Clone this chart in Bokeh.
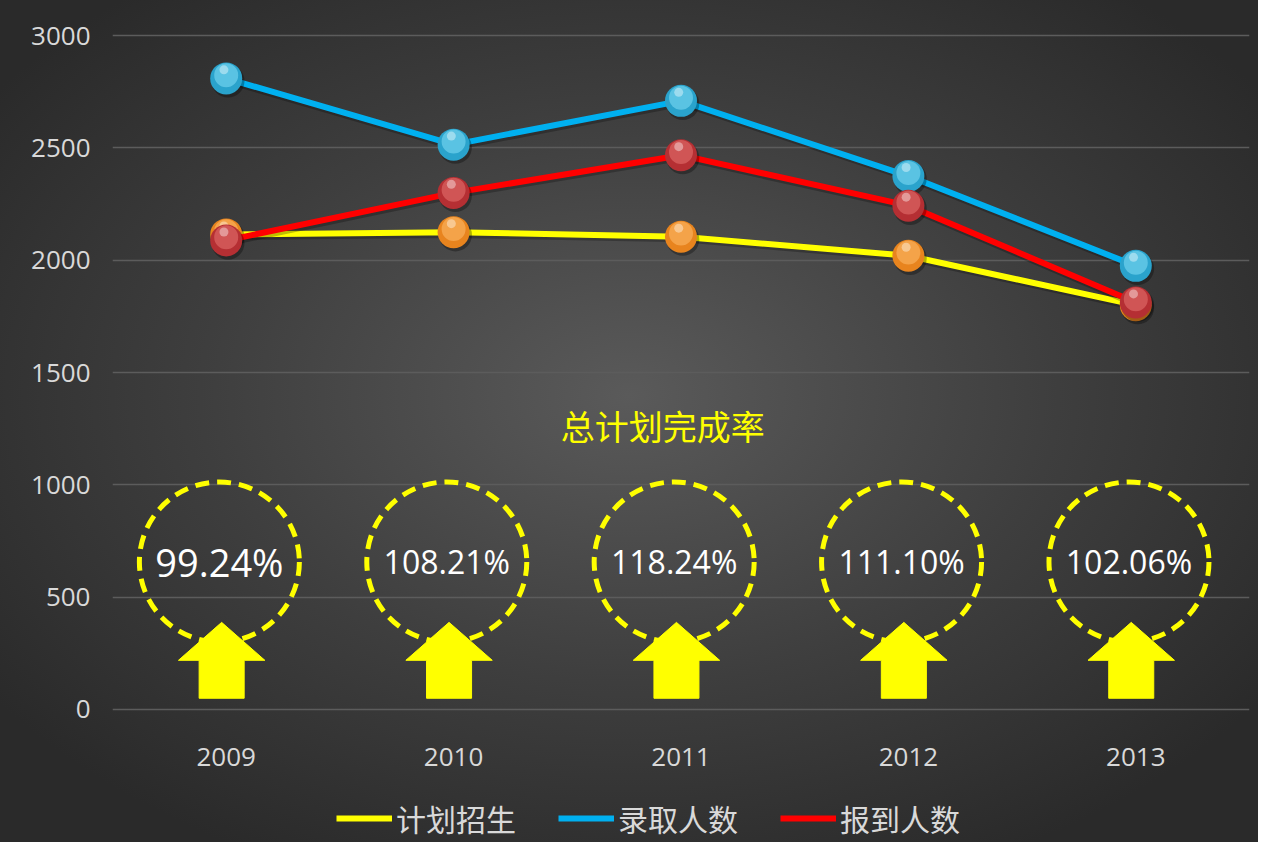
from bokeh.plotting import figure
from bokeh.models import ColumnDataSource, Legend, LegendItem, Label, FixedTicker, Range1d
from bokeh.layouts import column
from bokeh.transform import dodge
from bokeh.core.properties import value
from bokeh.embed import file_html
from bokeh.resources import INLINE

# ---------------- data ----------------
years = ["2009", "2010", "2011", "2012", "2013"]
plan = [2115, 2125, 2105, 2020, 1800]          # 计划招生
admitted = [2810, 2515, 2710, 2375, 1975]      # 录取人数
enrolled = [2088, 2300, 2468, 2243, 1812]      # 报到人数
rates = ["99.24%", "108.21%", "118.24%", "111.10%", "102.06%"]
series_names = ["计划招生", "录取人数", "报到人数"]
title_text = "总计划完成率"
y_ticks = [0, 500, 1000, 1500, 2000, 2500, 3000]

# ---------------- layout / style ----------------
CJK = "Noto Sans CJK SC"
LATIN = "Open Sans"
LABEL_COLOR = "#D9D9D9"
RING_Y = 656
RING_DX = -0.03
ARROW_DX = -0.02
ARROW_TIP, ARROW_BASE, ARROW_BOTTOM = 387, 218, 49
HEAD_HALF, SHAFT_HALF = 0.19, 0.099
rate_sizes = ["38px", "32px", "32px", "32px", "32px"]

xs = list(range(1, len(years) + 1))

p = figure(width=1258, height=790, x_range=Range1d(0.5, 5.5), y_range=Range1d(-10, 3010),
           output_backend="svg", toolbar_location=None,
           min_border_left=112, min_border_right=9, min_border_top=33, min_border_bottom=79)

p.background_fill_alpha = 0
p.border_fill_alpha = 0
p.outline_line_color = None

# axes
p.xaxis.ticker = FixedTicker(ticks=xs)
p.xaxis.major_label_overrides = {x: y for x, y in zip(xs, years)}
p.yaxis.ticker = FixedTicker(ticks=y_ticks)
for ax in (p.xaxis, p.yaxis):
    ax.axis_line_color = None
    ax.major_tick_line_color = None
    ax.minor_tick_line_color = None
    ax.major_tick_in = 0
    ax.major_tick_out = 0
    ax.minor_tick_out = 0
    ax.major_label_text_color = LABEL_COLOR
    ax.major_label_text_font = LATIN
    ax.major_label_text_font_size = "26px"
p.yaxis.major_label_standoff = 22
p.xaxis.major_label_standoff = 36
p.xgrid.visible = False
p.ygrid.grid_line_color = "#5c5c5c"
p.ygrid.grid_line_width = 1.5

# rings, arrows, percentages
ring_src = ColumnDataSource(dict(x=[x + RING_DX for x in xs], y=[RING_Y] * len(xs),
                                 t=rates, fs=rate_sizes))
p.scatter("x", "y", source=ring_src, marker="circle", size=160, fill_alpha=0,
          line_color="#FFFF00", line_width=5, line_dash="14 8")

arrow_xs, arrow_ys = [], []
for x in xs:
    c = x + ARROW_DX
    arrow_xs.append([c, c + HEAD_HALF, c + SHAFT_HALF, c + SHAFT_HALF,
                     c - SHAFT_HALF, c - SHAFT_HALF, c - HEAD_HALF])
    arrow_ys.append([ARROW_TIP, ARROW_BASE, ARROW_BASE, ARROW_BOTTOM,
                     ARROW_BOTTOM, ARROW_BASE, ARROW_BASE])
p.patches(arrow_xs, arrow_ys, fill_color="#FFFF00", line_color="#FFFF00", line_width=1)

p.text("x", "y", text="t", source=ring_src, text_font=value(LATIN), text_font_size="fs",
       text_color="white", text_align="center", text_baseline="middle")

p.add_layout(Label(x=2.92, y=1265, text=title_text, text_color="#FFFF00", text_font=CJK,
                   text_font_size="34px", text_align="center", text_baseline="middle"))

# series
series = [
    (plan, "#FFFF00", "#E8841E", "#FBB866"),
    (admitted, "#00B0F0", "#2AA3CC", "#7CD8F2"),
    (enrolled, "#FF0000", "#B52F33", "#E2706D"),
]
for vals, lc, base, light in series:
    src = ColumnDataSource(dict(x=xs, y=vals))
    p.line(dodge("x", 0.006, range=p.x_range), dodge("y", -12, range=p.y_range), source=src,
           line_color="black", line_alpha=0.25, line_width=6)
    p.line("x", "y", source=src, line_color=lc, line_width=6)
    p.scatter(dodge("x", 0.008, range=p.x_range), dodge("y", -12, range=p.y_range), source=src,
              size=33, fill_color="black", fill_alpha=0.3, line_color=None)
    p.scatter("x", "y", source=src, size=32, fill_color=base, line_color=None)
    p.scatter("x", dodge("y", 14, range=p.y_range), source=src, size=24,
              fill_color=light, fill_alpha=0.6, line_color=None)
    p.scatter(dodge("x", -0.01, range=p.x_range), dodge("y", 38, range=p.y_range), source=src,
              size=9, fill_color="white", fill_alpha=0.4, line_color=None)

# legend strip (separate figure below the chart); its lines lie outside its visible range
lf = figure(width=1258, height=52, x_range=Range1d(0, 1), y_range=Range1d(0, 1),
            output_backend="svg", toolbar_location=None, x_axis_type=None, y_axis_type=None,
            min_border=0, min_border_left=112, min_border_right=9, min_border_top=0,
            min_border_bottom=0)
lf.background_fill_alpha = 0
lf.border_fill_alpha = 0
lf.outline_line_color = None
lf.grid.visible = False
legend_items = []
for (vals, lc, base, light), name in zip(series, series_names):
    r = lf.line(x=[-5, -4], y=[-5, -5], line_color=lc, line_width=6)
    legend_items.append(LegendItem(label=name, renderers=[r]))
legend = Legend(items=legend_items, orientation="horizontal", location=(224, 2),
                label_text_font=CJK, label_text_font_size="30px", label_text_color=LABEL_COLOR,
                glyph_width=56, glyph_height=20, label_standoff=4, spacing=42,
                background_fill_alpha=0, border_line_color=None, margin=0, padding=4)
lf.add_layout(legend, "center")

layout = column(p, lf, spacing=0)
layout.styles = {"background": "radial-gradient(ellipse 62% 62% at 50% 47%, #5a5a5a 0%, #3e3e3e 55%, #2a2a2a 100%)"}

open("out.html", "w").write(file_html(layout, INLINE))
